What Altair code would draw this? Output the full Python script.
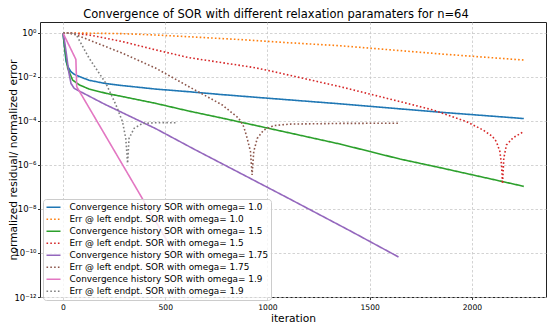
import altair as alt
import pandas as pd

chart_title = "Convergence of SOR with different relaxation paramaters for n=64"

series_names = [
    "Convergence history SOR with omega= 1.0",
    "Err @ left endpt. SOR with omega= 1.0",
    "Convergence history SOR with omega= 1.5",
    "Err @ left endpt. SOR with omega= 1.5",
    "Convergence history SOR with omega= 1.75",
    "Err @ left endpt. SOR with omega= 1.75",
    "Convergence history SOR with omega= 1.9",
    "Err @ left endpt. SOR with omega= 1.9",
]
colors = ["#1f77b4", "#ff7f0e", "#2ca02c", "#d62728",
          "#9467bd", "#8c564b", "#e377c2", "#7f7f7f"]
solid = [1, 0]
dotted = [1.6, 2.2]
dashes = [solid, dotted, solid, dotted, solid, dotted, solid, dotted]

# omega = 1.0
conv_10_x = [0, 8, 15, 25, 39, 55, 80, 128, 210, 291, 454, 616, 779, 941, 1356, 1649, 1844, 2254]
conv_10_y = [1.0, 0.2, 0.0501, 0.0282, 0.0174, 0.0132, 0.0105, 7.08e-3, 5.01e-3, 4.07e-3,
             2.82e-3, 2.14e-3, 1.58e-3, 1.20e-3, 6.03e-4, 3.55e-4, 2.51e-4, 1.29e-4]
err_10_x = [0, 100, 291, 450, 616, 868, 1100, 1356, 1649, 1844, 2254]
err_10_y = [1.0, 0.99, 0.933, 0.813, 0.676, 0.501, 0.363, 0.263, 0.158, 0.112, 0.0589]

# omega = 1.5
conv_15_x = [0, 5, 11, 23, 47, 80, 128, 210, 291, 454, 616, 779, 941, 1356, 1649, 1844, 2153, 2254]
conv_15_y = [1.0, 0.398, 0.141, 0.0251, 7.24e-3, 4.37e-3, 2.82e-3, 1.82e-3, 1.29e-3, 6.31e-4,
             2.82e-4, 1.35e-4, 6.31e-5, 8.91e-6, 1.86e-6, 7.59e-7, 1.74e-7, 1.07e-7]
err_15_x = [0, 50, 128, 291, 454, 616, 779, 941, 1031, 1356, 1649, 1811, 1974, 2055, 2100,
            2120, 2137, 2145, 2150, 2156, 2169, 2202, 2250]
err_15_y = [1.0, 0.977, 0.813, 0.407, 0.170, 0.0759, 0.0447, 0.0263, 0.0174, 3.63e-3, 7.59e-4,
            3.16e-4, 9.33e-5, 3.89e-5, 2.0e-5, 1.15e-5, 4.07e-6, 1.0e-6, 1.41e-7, 2.0e-6,
            8.13e-6, 1.74e-5, 3.16e-5]

# omega = 1.75
conv_175_x = [0, 8, 15, 28, 39, 55, 80, 200, 454, 641, 877, 1100, 1400, 1641]
conv_175_y = [1.0, 0.398, 0.141, 0.0174, 5.13e-3, 3.02e-3, 2.29e-3, 6.03e-4, 4.47e-5,
              5.25e-6, 3.80e-7, 3.16e-8, 1.07e-9, 6.61e-11]
err_175_x = [0, 30, 63, 128, 291, 454, 616, 779, 860, 884, 901, 917, 925, 933, 950, 982,
             1031, 1112, 1356, 1640]
err_175_y = [1.0, 0.977, 0.832, 0.479, 0.120, 0.0251, 3.63e-3, 5.37e-4, 1.32e-4, 5.5e-5,
             1.62e-5, 4.07e-6, 3.55e-7, 4.07e-6, 1.62e-5, 3.89e-5, 6.17e-5, 7.24e-5,
             7.76e-5, 7.94e-5]

# omega = 1.9
conv_19_x = [0, 63, 67, 316, 559]
conv_19_y = [1.0, 0.0631, 3.63e-3, 4.17e-7, 5.75e-11]
err_19_x = [0, 40, 63, 128, 210, 259, 291, 307, 316, 323, 348, 389, 454, 551]
err_19_y = [1.0, 1.0, 0.891, 0.0708, 5.13e-3, 5.37e-4, 9.33e-5, 1.62e-5, 1.2e-6, 1.62e-5,
            4.68e-5, 7.76e-5, 8.32e-5, 8.32e-5]

x_lists = [conv_10_x, err_10_x, conv_15_x, err_15_x, conv_175_x, err_175_x, conv_19_x, err_19_x]
y_lists = [conv_10_y, err_10_y, conv_15_y, err_15_y, conv_175_y, err_175_y, conv_19_y, err_19_y]

x_ticks = [0, 500, 1000, 1500, 2000]
y_ticks = [1e-12, 1e-10, 1e-8, 1e-6, 1e-4, 1e-2, 1.0]

rows = []
for name, xs, ys in zip(series_names, x_lists, y_lists):
    for xv, yv in zip(xs, ys):
        rows.append({"series": name, "iteration": xv, "value": yv})
df = pd.DataFrame(rows)

sup = ("replace(replace(replace(replace(replace(replace(replace(replace("
       "'' + round(log(datum.value) / LN10), '-', '\u207b'), '0', '\u2070'), '1', '\u00b9'),"
       " '2', '\u00b2'), '4', '\u2074'), '6', '\u2076'), '8', '\u2078'), '3', '\u00b3')")
y_label_expr = "'10' + " + sup

font = "DejaVu Sans"

legend = alt.Legend(
    title=None, orient="none", legendX=3, legendY=177,
    symbolType="stroke", symbolSize=196, symbolStrokeWidth=1.6,
    labelFontSize=8.9, labelFont=font, labelColor="#000000", labelLimit=400,
    labelOffset=8, padding=2.5, rowPadding=0, clipHeight=11.4,
    strokeColor="#cccccc", fillColor="rgba(255,255,255,0.8)", cornerRadius=3,
)

lines = alt.Chart(df).mark_line(strokeWidth=1.6, clip=True).encode(
    x=alt.X("iteration:Q",
            scale=alt.Scale(domain=[-112.5, 2362.5], nice=False, zero=False),
            axis=alt.Axis(title="iteration", values=x_ticks, format="d",
                          labelFontSize=7.6, tickSize=2.5, labelPadding=4,
                          titleFontSize=10.7, titleFontWeight="normal",
                          titleY=24, titleBaseline="alphabetic")),
    y=alt.Y("value:Q",
            scale=alt.Scale(type="log", domain=[1e-12, 3.16], nice=False),
            axis=alt.Axis(title="normalized residual/ normalized error", values=y_ticks,
                          labelExpr=y_label_expr, labelFontSize=8.5, tickSize=2.5,
                          labelPadding=1.5, titleFontSize=10.7, titleFontWeight="normal",
                          titleX=-22, titleY=137.5, titleAngle=-90,
                          titleBaseline="bottom", titleAlign="center")),
    color=alt.Color("series:N", scale=alt.Scale(domain=series_names, range=colors),
                    legend=legend),
    strokeDash=alt.StrokeDash("series:N", scale=alt.Scale(domain=series_names, range=dashes),
                              legend=legend),
)

title_df = pd.DataFrame({"t": [chart_title]})
title = alt.Chart(title_df).mark_text(
    font=font, fontSize=11.5, color="#000000", align="center", baseline="alphabetic"
).encode(text="t:N", x=alt.value(236), y=alt.value(-4.5))

chart = alt.layer(lines, title).properties(
    width=506, height=275,
    autosize=alt.AutoSizeParams(type="none"),
    padding={"left": 32, "top": 14, "right": 1, "bottom": 26},
).configure_view(
    stroke="#222222", strokeWidth=1,
).configure_axis(
    grid=True, gridColor="#c8c8c8", gridDash=[2.5, 2], gridWidth=0.8,
    domain=False, tickColor="#000000", tickWidth=0.8,
    labelFont=font, titleFont=font, labelColor="#000000", titleColor="#000000",
)

chart.save("out.html", embed_options={"renderer": "svg", "actions": False})
